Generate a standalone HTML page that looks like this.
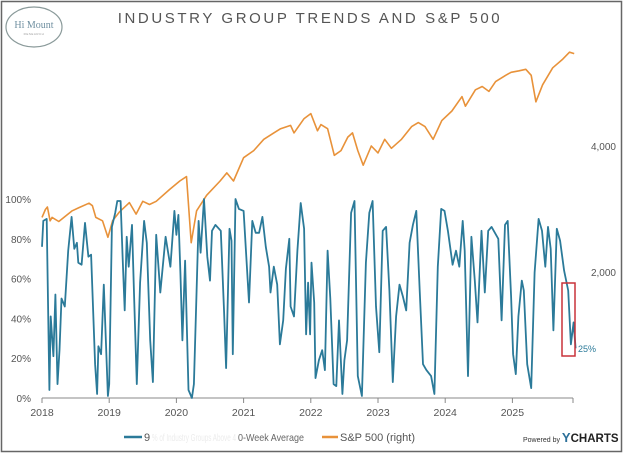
<!DOCTYPE html>
<html><head><meta charset="utf-8">
<style>
html,body{margin:0;padding:0;background:#fff;}
#wrap{position:relative;width:624px;height:454px;overflow:hidden;font-family:"Liberation Sans",sans-serif;}
</style></head>
<body>
<div id="wrap">
<svg id="chart" width="624" height="454" viewBox="0 0 624 454">
  <rect x="1.5" y="1.5" width="620" height="450" fill="#fff" stroke="#666" stroke-width="1.5"/>
  <g>
    <ellipse cx="34" cy="27" rx="28" ry="20" fill="#fff" stroke="#8a9a9a" stroke-width="1.2"/>
    <text x="34" y="28" text-anchor="middle" font-family="Liberation Serif,serif" font-size="10" fill="#6f8fa0">Hi Mount</text>
    <text x="34" y="35" text-anchor="middle" font-family="Liberation Sans,sans-serif" font-size="3" fill="#999" letter-spacing="0.5">RESEARCH</text>
  </g>
  <text x="310" y="23" text-anchor="middle" font-size="15" fill="#555" letter-spacing="2.6">INDUSTRY GROUP TRENDS AND S&amp;P 500</text>
  <g id="axes"></g>
  <g id="series"></g>
  <rect x="562" y="283" width="13" height="73" fill="none" stroke="#c8323a" stroke-width="1.5"/>
  <text x="578" y="352" font-size="9" fill="#2b7a99">25%</text>
  <g>
    <line x1="124" y1="437" x2="142" y2="437" stroke="#2b7a99" stroke-width="2.5"/>
    <text x="144" y="441" font-size="11" fill="#555">9</text>
    <text x="152" y="441" font-size="10" fill="#ececec" textLength="84" lengthAdjust="spacingAndGlyphs">% of Industry Groups Above 4</text>
    <text x="238" y="441" font-size="10.5" fill="#666" textLength="66" lengthAdjust="spacingAndGlyphs">0-Week Average</text>
    <line x1="322" y1="437" x2="338" y2="437" stroke="#e8923a" stroke-width="2.5"/>
    <text x="340" y="441" font-size="11" fill="#555">S&amp;P 500 (right)</text>
  </g>
  <text x="523" y="442" font-size="7" fill="#333">Powered by <tspan font-size="13" font-weight="bold" fill="#2b6f99">Y</tspan><tspan font-size="11.5" font-weight="bold" fill="#222">CHARTS</tspan></text>
</svg>
</div>
<script>
// Breadth series: years since 2018, % value
const breadthT = [0,0.02,0.07,0.11,0.13,0.17,0.20,0.23,0.26,0.29,0.34,0.39,0.44,0.48,0.52,0.54,0.59,0.64,0.69,0.73,0.79,0.82,0.84,0.88,0.92,0.98,1.00,1.04,1.09,1.12,1.17,1.20,1.23,1.26,1.29,1.34,1.37,1.41,1.46,1.52,1.56,1.61,1.65,1.70,1.76,1.84,1.91,1.97,2.00,2.03,2.06,2.09,2.13,2.18,2.23,2.26,2.30,2.33,2.36,2.41,2.46,2.50,2.53,2.58,2.66,2.71,2.74,2.79,2.82,2.84,2.88,2.93,3.00,3.08,3.13,3.18,3.23,3.28,3.33,3.38,3.40,3.45,3.50,3.54,3.59,3.63,3.68,3.70,3.75,3.80,3.85,3.90,3.93,3.96,3.99,4.01,4.05,4.07,4.12,4.17,4.21,4.25,4.29,4.34,4.38,4.42,4.47,4.50,4.54,4.60,4.65,4.70,4.76,4.82,4.87,4.92,4.97,5.02,5.07,5.12,5.17,5.22,5.27,5.32,5.37,5.42,5.47,5.52,5.57,5.62,5.67,5.72,5.79,5.84,5.89,5.94,5.99,6.04,6.11,6.16,6.21,6.26,6.29,6.34,6.39,6.44,6.48,6.54,6.59,6.64,6.69,6.74,6.79,6.84,6.89,6.93,6.98,7.01,7.05,7.09,7.14,7.17,7.22,7.28,7.33,7.39,7.44,7.49,7.53,7.57,7.61,7.66,7.71,7.77,7.83,7.87,7.91,7.94];
const breadthV = [76,89,90,4,41,21,52,7,24,50,46,74,91,75,78,68,67,88,71,72,17,2,26,22,57,1,7,86,93,99,99,71,44,81,66,87,51,7,58,89,78,29,8,82,53,81,66,94,82,92,63,29,69,4,0,7,54,89,73,100,71,59,84,87,84,43,15,85,79,22,100,95,94,48,89,83,83,91,76,66,53,66,57,27,39,65,80,46,41,74,98,85,32,58,32,68,48,10,19,24,14,74,50,7,6,39,2,19,29,93,99,11,1,68,93,99,46,23,84,86,54,8,41,57,51,44,78,87,94,54,17,14,11,2,66,95,94,84,67,74,66,89,74,11,81,59,38,84,53,84,86,83,80,39,87,89,51,22,12,41,59,54,17,5,63,90,84,66,86,75,34,85,79,64,54,27,38,25];
// S&P 500 series
const spT = [0,0.05,0.08,0.12,0.15,0.25,0.35,0.45,0.55,0.70,0.75,0.80,0.90,0.98,1.05,1.15,1.30,1.40,1.50,1.60,1.70,1.90,2.05,2.15,2.22,2.30,2.45,2.65,2.75,2.85,3.00,3.15,3.30,3.45,3.55,3.70,3.75,3.90,4.00,4.10,4.15,4.25,4.35,4.45,4.55,4.62,4.70,4.78,4.90,5.00,5.10,5.20,5.35,5.50,5.60,5.70,5.82,5.95,6.10,6.25,6.30,6.45,6.55,6.65,6.75,6.90,6.98,7.10,7.20,7.28,7.35,7.45,7.60,7.75,7.85,7.92];
const spV = [2700,2820,2860,2650,2700,2640,2720,2800,2850,2920,2880,2700,2650,2420,2650,2780,2930,2750,2950,2900,2950,3150,3300,3380,2350,2800,3050,3300,3450,3300,3750,3900,4150,4300,4400,4480,4300,4650,4780,4350,4500,4400,3800,3900,4200,4300,3900,3600,4000,3850,4150,3950,4150,4450,4550,4450,4150,4600,4850,5250,4980,5450,5550,5400,5700,5900,6000,6050,6100,5900,5100,5600,6150,6450,6700,6650];
const yearTicks = ["2018","2019","2020","2021","2022","2023","2024","2025"];
const leftTicks = [0,20,40,60,80,100];
const rightTicks = [2000,4000];

const NS="http://www.w3.org/2000/svg";
const X0=42, PXY=67.2;
const xS = t => X0 + t*PXY;
const yL = v => 398 - v*1.99;
const yR = v => 272 - 126*Math.log2(v/2000);
function mk(tag, attrs, parent){const e=document.createElementNS(NS,tag);for(const k in attrs)e.setAttribute(k,attrs[k]);parent.appendChild(e);return e;}
const axes=document.getElementById('axes'), ser=document.getElementById('series');

let ax = mk('line',{x1:X0,y1:398,x2:573,y2:398,stroke:'#888','stroke-width':1},axes);


yearTicks.forEach((lab,i)=>{
  const x=xS(i);
  const tk=mk('line',{x1:x,y1:398,x2:x,y2:403,stroke:'#888','stroke-width':1},axes);
  
  
  const tx=mk('text',{x:x,y:416,'text-anchor':'middle','font-size':10.5,fill:'#555'},axes);
  tx.textContent=lab;
  
  
});
const endTk=mk('line',{x1:573,y1:398,x2:573,y2:403,stroke:'#888','stroke-width':1},axes);


leftTicks.forEach(v=>{
  const tx=mk('text',{x:31,y:yL(v)+4,'text-anchor':'end','font-size':10,fill:'#555'},axes);
  tx.textContent=v+'%';
  
  
});
rightTicks.forEach(v=>{
  const tx=mk('text',{x:616,y:yR(v)+4,'text-anchor':'end','font-size':10,fill:'#555'},axes);
  tx.textContent=v.toLocaleString('en-US');
  
  
});

const spPath=mk('path',{d:spT.map((t,i)=>(i?'L':'M')+xS(t).toFixed(1)+','+yR(spV[i]).toFixed(1)).join(''),fill:'none',stroke:'#e8923a','stroke-width':1.6,'stroke-linejoin':'round'},ser);


const bPath=mk('path',{d:breadthT.map((t,i)=>(i?'L':'M')+xS(t).toFixed(1)+','+yL(breadthV[i]).toFixed(1)).join(''),fill:'none',stroke:'#2b7a99','stroke-width':1.8,'stroke-linejoin':'round'},ser);


</script>
</body></html>
